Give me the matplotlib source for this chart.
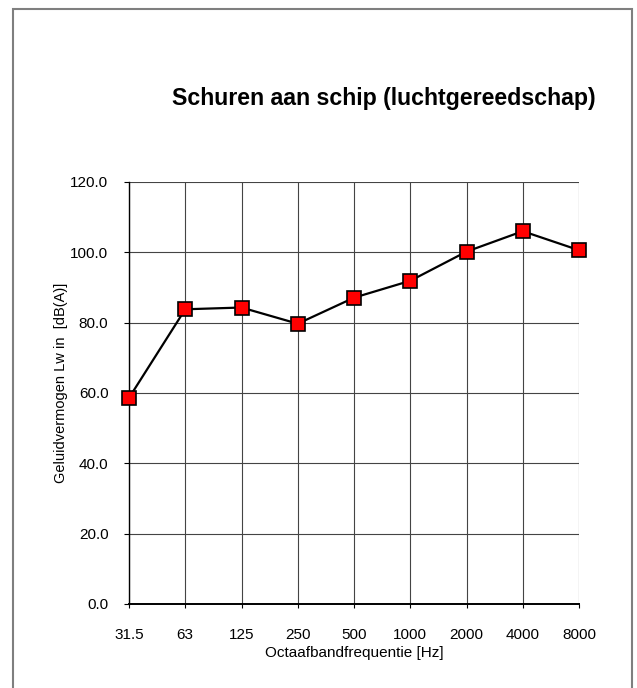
import matplotlib
matplotlib.use("Agg")
import matplotlib.pyplot as plt
from matplotlib.patches import Rectangle

# ---------- data ----------
FREQS = ["31.5", "63", "125", "250", "500", "1000", "2000", "4000", "8000"]
LEVELS = [58.6, 83.8, 84.3, 79.7, 87.1, 91.9, 100.2, 106.0, 100.6]
Y_TICKS = [0, 20, 40, 60, 80, 100, 120]
TITLE = "Schuren aan schip (luchtgereedschap)"
XLABEL = "Octaafbandfrequentie [Hz]"
YLABEL = "Geluidvermogen Lw in  [dB(A)]"
# -------------------------------------------------

plt.rcParams["font.family"] = ["Liberation Sans", "DejaVu Sans"]

fig = plt.figure(figsize=(6.37, 6.88), dpi=100)
ax = fig.add_axes([0.2025, 0.1221, 0.7065, 0.6134])

# outer grey frame around the chart
fig.patches.append(Rectangle((13 / 637, -0.01), (632 - 13) / 637, 1 - 9 / 688 + 0.01,
                             transform=fig.transFigure, fill=False,
                             edgecolor="#7f7f7f", linewidth=1.5))

x = list(range(len(FREQS)))
ax.plot(x, LEVELS, color="black", linewidth=1.6, marker="s", markersize=10,
        markerfacecolor="#ff0000", markeredgecolor="black", markeredgewidth=1.2,
        zorder=5, clip_on=False)

ax.set_xlim(0, len(FREQS) - 1)
ax.set_ylim(0, 120)
ax.set_xticks(x)
ax.set_xticklabels(FREQS)
ax.set_yticks(Y_TICKS)
ax.set_yticklabels([f"{v:.1f}" for v in Y_TICKS])

ax.grid(True, color="#444444", linewidth=0.8)
ax.set_axisbelow(True)
for side in ("top", "right"):
    ax.spines[side].set_visible(False)
ax.spines["left"].set_color("black")
ax.spines["left"].set_linewidth(1.0)
ax.spines["bottom"].set_color("black")
ax.spines["bottom"].set_linewidth(1.4)

ax.tick_params(axis="y", direction="out", length=3.6, width=0.8, labelsize=11, pad=11.2)
ax.tick_params(axis="x", direction="out", length=3, width=0.8, labelsize=11, pad=14.2)

ax.set_xlabel(XLABEL, fontsize=11)
ax.set_ylabel(YLABEL, fontsize=10.5)
ax.xaxis.set_label_coords(0.5, -0.0985)
ax.yaxis.set_label_coords(-0.1356, 0.525)

fig.text(384 / 637, 1 - 99 / 688, TITLE, fontsize=16.7, fontweight="bold",
         ha="center", va="center")

fig.savefig("out.png", dpi=100)
